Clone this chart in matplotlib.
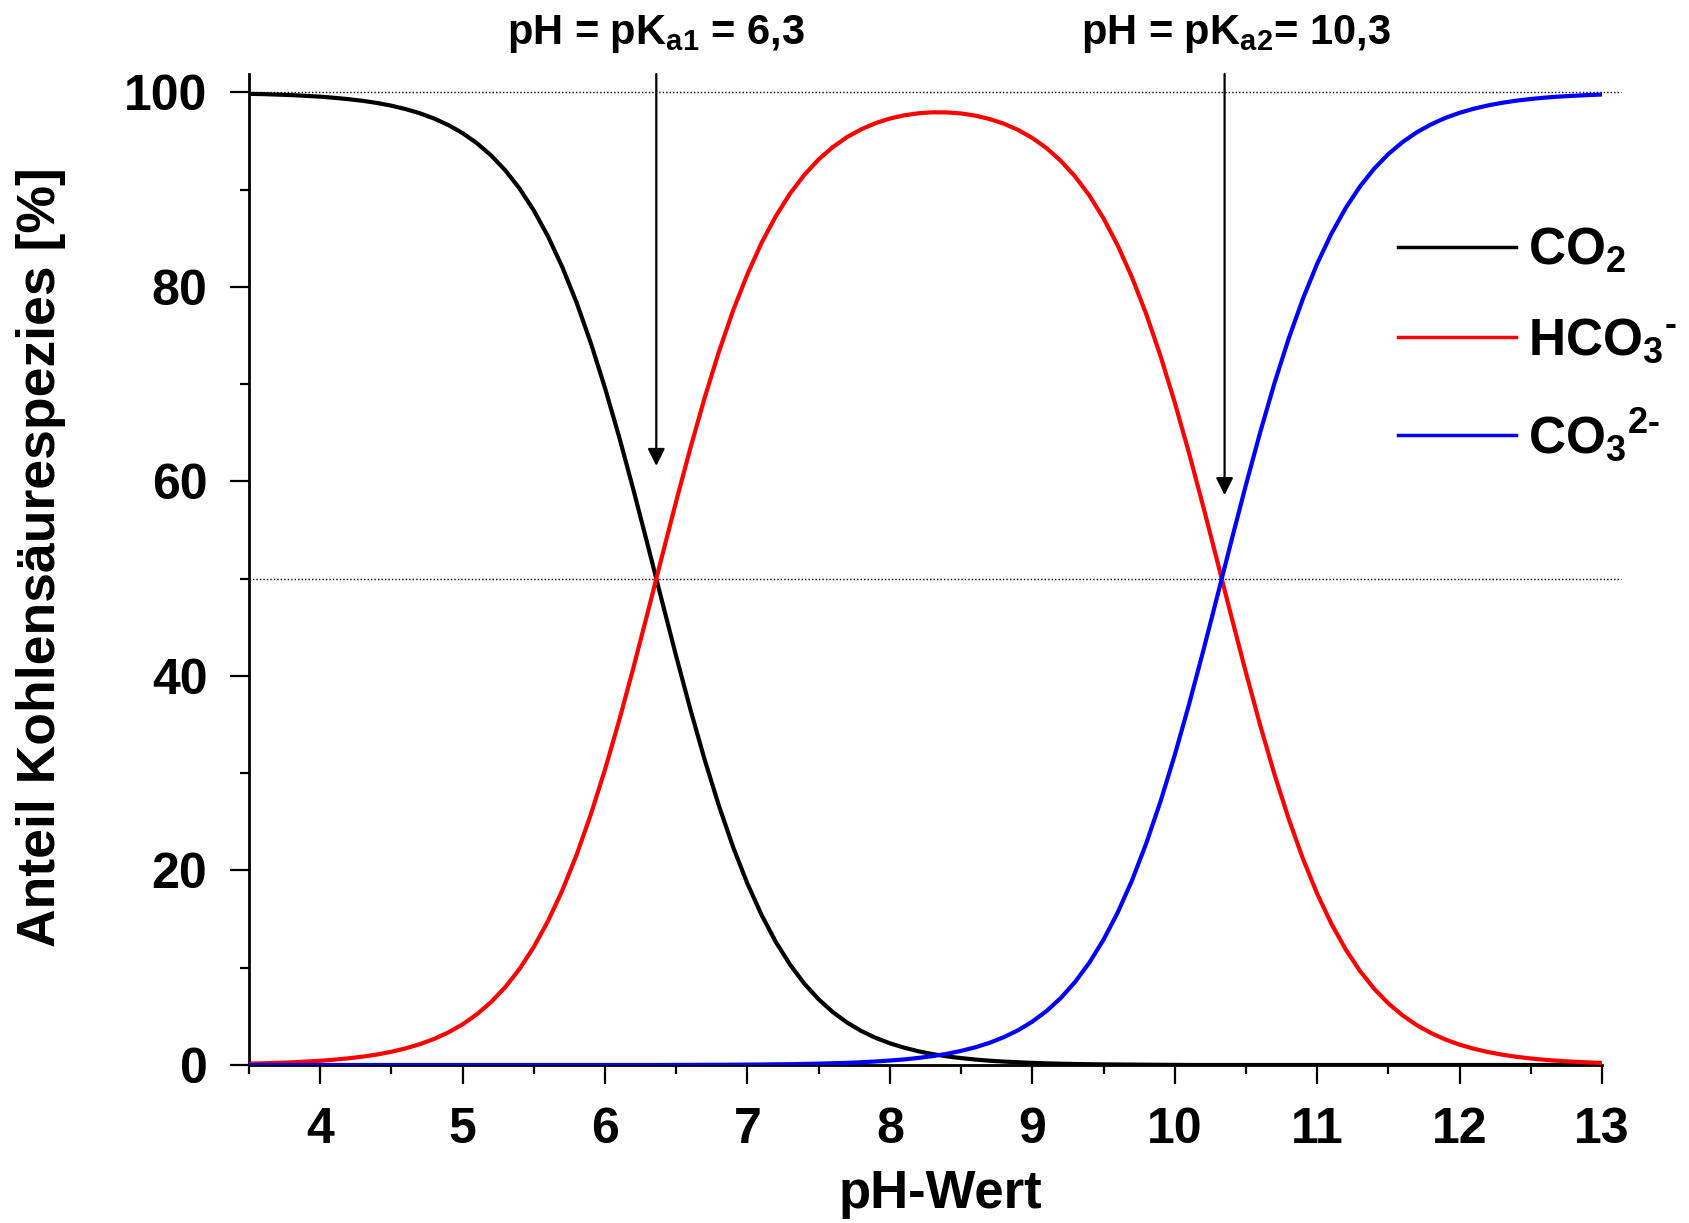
import matplotlib
matplotlib.use('Agg')
import matplotlib.pyplot as plt

plt.rcParams['font.family'] = ['Liberation Sans', 'DejaVu Sans']
plt.rcParams['font.weight'] = 'bold'
plt.rcParams['mathtext.fontset'] = 'custom'
plt.rcParams['mathtext.rm'] = 'Liberation Sans:bold'
plt.rcParams['mathtext.bf'] = 'Liberation Sans:bold'
plt.rcParams['mathtext.it'] = 'Liberation Sans:bold'
plt.rcParams['mathtext.default'] = 'bf'

ph = [3.5, 3.6, 3.7, 3.8, 3.9, 4.0, 4.1, 4.2, 4.3, 4.4,
      4.5, 4.6, 4.7, 4.8, 4.9, 5.0, 5.1, 5.2, 5.3, 5.4,
      5.5, 5.6, 5.7, 5.8, 5.9, 6.0, 6.1, 6.2, 6.3, 6.4,
      6.5, 6.6, 6.7, 6.8, 6.9, 7.0, 7.1, 7.2, 7.3, 7.4,
      7.5, 7.6, 7.7, 7.8, 7.9, 8.0, 8.1, 8.2, 8.3, 8.4,
      8.5, 8.6, 8.7, 8.8, 8.9, 9.0, 9.1, 9.2, 9.3, 9.4,
      9.5, 9.6, 9.7, 9.8, 9.9, 10.0, 10.1, 10.2, 10.3, 10.4,
      10.5, 10.6, 10.7, 10.8, 10.9, 11.0, 11.1, 11.2, 11.3, 11.4,
      11.5, 11.6, 11.7, 11.8, 11.9, 12.0, 12.1, 12.2, 12.3, 12.4,
      12.5, 12.6, 12.7, 12.8, 12.9, 13.0]
co2 = [99.86, 99.83, 99.78, 99.73, 99.65, 99.57, 99.45, 99.31, 99.14, 98.92,
       98.64, 98.29, 97.86, 97.32, 96.65, 95.82, 94.79, 93.53, 91.99, 90.12,
       87.87, 85.19, 82.05, 78.41, 74.25, 69.61, 64.54, 59.11, 53.45, 47.70,
       42.01, 36.53, 31.37, 26.64, 22.38, 18.64, 15.40, 12.63, 10.30, 8.35,
       6.75, 5.43, 4.36, 3.49, 2.79, 2.23, 1.78, 1.41, 1.12, 0.89,
       0.71, 0.56, 0.44, 0.35, 0.28, 0.22, 0.17, 0.13, 0.10, 0.08,
       0.06, 0.05, 0.04, 0.03, 0.02, 0.01, 0.0, 0.0, 0.0, 0.0] + [0.0] * 26
hco3 = [0.14, 0.17, 0.22, 0.27, 0.35, 0.43, 0.55, 0.69, 0.86, 1.08,
        1.36, 1.71, 2.14, 2.68, 3.35, 4.18, 5.21, 6.47, 8.01, 9.88,
        12.13, 14.81, 17.95, 21.59, 25.75, 30.39, 35.46, 40.89, 46.55, 52.30,
        57.99, 63.47, 68.63, 73.36, 77.61, 81.32, 84.57, 87.30, 89.62, 91.54,
        93.12, 94.39, 95.42, 96.22, 96.85, 97.32, 97.65, 97.86, 97.96, 97.95,
        97.84, 97.62, 97.27, 96.79, 96.15, 95.32, 94.28, 92.97, 91.37, 89.42,
        87.06, 84.26, 80.98, 77.21, 72.91, 68.13, 62.94, 57.43, 51.73, 45.98,
        40.34, 34.94, 29.90, 25.31, 21.21, 17.61, 14.52, 11.89, 9.68, 7.84,
        6.33, 5.10, 4.09, 3.28, 2.62, 2.09, 1.67, 1.33, 1.06, 0.84,
        0.67, 0.53, 0.42, 0.34, 0.27, 0.21]
co3 = [0.0] * 30 + [
       0.01, 0.01, 0.02, 0.02, 0.03, 0.04, 0.05, 0.07, 0.08, 0.11,
       0.14, 0.18, 0.22, 0.28, 0.36, 0.46, 0.57, 0.73, 0.91, 1.15,
       1.45, 1.82, 2.28, 2.86, 3.57, 4.46, 5.55, 6.89, 8.53, 10.51,
       12.88, 15.69, 18.98, 22.79, 27.09, 31.87, 37.06, 42.57, 48.27, 54.02,
       59.66, 65.06, 70.10, 74.69, 78.79, 82.39, 85.48, 88.11, 90.32, 92.16,
       93.67, 94.90, 95.91, 96.72, 97.38, 97.91, 98.33, 98.67, 98.94, 99.16,
       99.33, 99.47, 99.58, 99.66, 99.73, 99.79]
labels = [r'CO$_2$', r'HCO$_3$$^{\text{-}}$', r'CO$_3$$^{2\text{-}}$']
colors = ['black', 'red', 'blue']
pka = [6.36, 10.35]
pka_text = [r'pH = pK$_{a1}$ = 6,3', r'pH = pK$_{a2}$= 10,3']
arrow_tip = [61.6, 58.6]

fig = plt.figure(figsize=(16.89, 12.23), dpi=100)
ax = fig.add_axes([0.1474, 0.1292, 0.8011, 0.8103])

# Hilfslinien bei 50 % und 100 %
for yv in (50, 100):
    ax.plot([3.5, 13.13], [yv, yv], color='black', lw=1.0, ls=(0, (1, 1.5)),
            clip_on=False, zorder=1)

lines = []
for vals, c, lab in zip([co2, hco3, co3], colors, labels):
    ln, = ax.plot(ph, vals, color=c, lw=3.0, label=lab, zorder=3,
                  solid_joinstyle='round')
    lines.append(ln)

ax.set_xlim(3.5, 13)
ax.set_ylim(0, 101.9)

for x, txt, tip in zip(pka, pka_text, arrow_tip):
    ax.annotate('', xy=(x, tip), xytext=(x, 101.9),
                arrowprops=dict(arrowstyle='-|>', color='black', lw=1.6,
                                mutation_scale=26, shrinkA=0, shrinkB=0),
                annotation_clip=False)
    ax.text(x + (0.08 if x > 10 else 0.0), 105.0, txt, ha='center',
            va='baseline', fontsize=30, fontweight='bold')

ax.spines['top'].set_visible(False)
ax.spines['right'].set_visible(False)
ax.spines['left'].set_linewidth(2)
ax.spines['bottom'].set_linewidth(2)

ax.set_xticks(range(4, 14))
ax.set_xticks([3.5 + i for i in range(10)], minor=True)
ax.set_yticks(range(0, 101, 20))
ax.set_yticks(range(10, 101, 20), minor=True)
ax.tick_params(which='major', length=14, width=1.6, labelsize=36, pad=16)
ax.tick_params(which='minor', length=6.5, width=1.6)
for lab in ax.get_xticklabels() + ax.get_yticklabels():
    lab.set_fontweight('bold')

ax.set_xlabel('pH-Wert', fontsize=38, fontweight='bold', labelpad=12)
ax.xaxis.label.set_x(0.511)
ax.set_ylabel('Anteil Kohlensäurespezies [%]', fontsize=38.5,
              fontweight='bold', labelpad=42)
ax.yaxis.label.set_y(0.512)

leg = ax.legend(handles=lines, loc='upper left', bbox_to_anchor=(0.834, 0.867),
                frameon=False, fontsize=37, handlelength=2.3,
                handletextpad=0.24, labelspacing=0.8, borderaxespad=0)
for t in leg.get_texts():
    t.set_fontweight('bold')
for h in leg.get_lines():
    h.set_linewidth(2.5)

fig.savefig('out.png', dpi=100)
